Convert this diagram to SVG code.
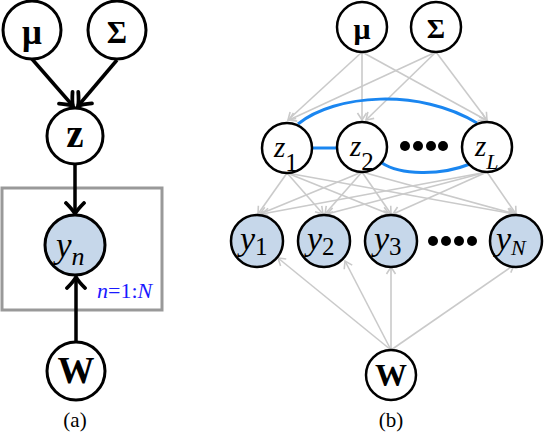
<svg xmlns="http://www.w3.org/2000/svg" width="544" height="440" viewBox="0 0 544 440">
<style>
.nd{fill:#fff;stroke:#000;stroke-width:3}
.nb{fill:#fff;stroke:#000;stroke-width:2.5}
.obs{fill:#c6d7ea}
.t{font-family:"Liberation Serif","Times New Roman",serif;fill:#000}
.b{font-weight:bold}
.i{font-style:italic}
.r{font-style:normal}
.ea{stroke:#000;stroke-width:3.5;fill:none}
.eb{stroke:#cacaca;stroke-width:1.6;fill:none}
.bl{stroke:#1a86f0;stroke-width:3;fill:none}
</style>
<defs>
<marker id="ab" markerUnits="userSpaceOnUse" markerWidth="26" markerHeight="26" viewBox="-13 -13 26 26" refX="0" refY="0" orient="auto">
<path d="M-11,-9 Q-4,-2 0,0 Q-4,2 -11,9" stroke="#000" stroke-width="3.8" fill="none" stroke-linecap="round"/>
</marker>
<marker id="ag" markerUnits="userSpaceOnUse" markerWidth="16" markerHeight="16" viewBox="-8 -8 16 16" refX="0" refY="0" orient="auto">
<path d="M-7,-4.5 L0,0 L-7,4.5" stroke="#cacaca" stroke-width="1.6" fill="none"/>
</marker>
</defs>

<rect x="2" y="188" width="160" height="122" fill="none" stroke="#999" stroke-width="3"/>

<g id="connectors">
<line class="ea" x1="32" y1="59" x2="73" y2="106" marker-end="url(#ab)"/>
<line class="ea" x1="117" y1="60" x2="78" y2="106" marker-end="url(#ab)"/>
<line class="ea" x1="75" y1="165" x2="75" y2="214" marker-end="url(#ab)"/>
<line class="ea" x1="76" y1="342" x2="76" y2="277" marker-end="url(#ab)"/>

<line class="eb" x1="362" y1="52" x2="288" y2="120" marker-end="url(#ag)"/>
<line class="eb" x1="362" y1="52" x2="362" y2="120" marker-end="url(#ag)"/>
<line class="eb" x1="362" y1="52" x2="486" y2="120" marker-end="url(#ag)"/>
<line class="eb" x1="436" y1="52" x2="289" y2="120" marker-end="url(#ag)"/>
<line class="eb" x1="436" y1="52" x2="366" y2="120" marker-end="url(#ag)"/>
<line class="eb" x1="436" y1="52" x2="487" y2="120" marker-end="url(#ag)"/>

<line class="eb" x1="287" y1="173" x2="258" y2="214" marker-end="url(#ag)"/>
<line class="eb" x1="287" y1="173" x2="323" y2="214" marker-end="url(#ag)"/>
<line class="eb" x1="287" y1="173" x2="389" y2="214" marker-end="url(#ag)"/>
<line class="eb" x1="287" y1="173" x2="514" y2="214" marker-end="url(#ag)"/>
<line class="eb" x1="362" y1="172" x2="260" y2="214" marker-end="url(#ag)"/>
<line class="eb" x1="362" y1="172" x2="325" y2="214" marker-end="url(#ag)"/>
<line class="eb" x1="362" y1="172" x2="391" y2="214" marker-end="url(#ag)"/>
<line class="eb" x1="362" y1="172" x2="515" y2="214" marker-end="url(#ag)"/>
<line class="eb" x1="487" y1="172" x2="262" y2="214" marker-end="url(#ag)"/>
<line class="eb" x1="487" y1="172" x2="327" y2="214" marker-end="url(#ag)"/>
<line class="eb" x1="487" y1="172" x2="393" y2="214" marker-end="url(#ag)"/>
<line class="eb" x1="487" y1="172" x2="516" y2="214" marker-end="url(#ag)"/>

<line class="eb" x1="391" y1="350" x2="278" y2="258" marker-end="url(#ag)"/>
<line class="eb" x1="391" y1="350" x2="345" y2="261" marker-end="url(#ag)"/>
<line class="eb" x1="391" y1="350" x2="391" y2="267" marker-end="url(#ag)"/>
<line class="eb" x1="391" y1="350" x2="514" y2="265" marker-end="url(#ag)"/>

<path class="bl" d="M298,124 C335,94 420,88 477,123"/>
<path class="bl" d="M312,148 L337,148"/>
<path class="bl" d="M382,163 C400,175 440,176 470,164"/>
</g>

<g id="a-mu"><circle class="nd" cx="32" cy="30" r="29"/><text class="t b" x="32" y="44" font-size="35" text-anchor="middle">μ</text></g>
<g id="a-sigma"><circle class="nd" cx="117" cy="30" r="29"/><text class="t b" x="117" y="43" font-size="31" text-anchor="middle">Σ</text></g>
<g id="a-z"><circle class="nd" cx="75" cy="136" r="28"/><text class="t b" x="75" y="147" font-size="39" text-anchor="middle">z</text></g>
<g id="a-yn"><circle class="nd obs" cx="75" cy="245" r="30"/><text class="t i" x="56" y="257" font-size="35">y<tspan font-size="26" dy="8">n</tspan></text></g>
<g id="a-plate-label"><text class="t" x="97" y="298" font-size="22" style="fill:#1a1aff"><tspan class="i">n</tspan>=1:<tspan class="i">N</tspan></text></g>
<g id="a-w"><circle class="nd" cx="76" cy="371" r="29"/><text class="t b" x="76" y="383" font-size="37" text-anchor="middle">W</text></g>
<text class="t" x="75" y="427" font-size="21" text-anchor="middle">(a)</text>

<g id="b-mu"><circle class="nb" cx="362" cy="27" r="25"/><text class="t b" x="362" y="39" font-size="30" text-anchor="middle">μ</text></g>
<g id="b-sigma"><circle class="nb" cx="436" cy="27" r="25"/><text class="t b" x="436" y="38" font-size="28" text-anchor="middle">Σ</text></g>
<g id="b-z1"><circle class="nb" cx="287" cy="148" r="25"/><text class="t i" x="274" y="157" font-size="29">z<tspan class="r" font-size="25" dy="14">1</tspan></text></g>
<g id="b-z2"><circle class="nb" cx="362" cy="147" r="25"/><text class="t i" x="350" y="156" font-size="29">z<tspan class="r" font-size="25" dy="14">2</tspan></text></g>
<g id="b-zL"><circle class="nb" cx="487" cy="147" r="25"/><text class="t i" x="475" y="156" font-size="29">z<tspan font-size="22" dy="13">L</tspan></text></g>
<g id="b-zdots"><circle cx="405" cy="146" r="5"/><circle cx="418" cy="146" r="5"/><circle cx="431" cy="146" r="5"/><circle cx="443" cy="146" r="5"/></g>
<g id="b-y1"><circle class="nb obs" cx="257" cy="241" r="26"/><text class="t i" x="240" y="250" font-size="34">y<tspan class="r" font-size="25" dy="5">1</tspan></text></g>
<g id="b-y2"><circle class="nb obs" cx="324" cy="241" r="26"/><text class="t i" x="307" y="250" font-size="34">y<tspan class="r" font-size="25" dy="5">2</tspan></text></g>
<g id="b-y3"><circle class="nb obs" cx="391" cy="241" r="26"/><text class="t i" x="374" y="250" font-size="34">y<tspan class="r" font-size="25" dy="5">3</tspan></text></g>
<g id="b-ydots"><circle cx="433" cy="241" r="5"/><circle cx="446" cy="241" r="5"/><circle cx="459" cy="241" r="5"/><circle cx="472" cy="241" r="5"/></g>
<g id="b-yN"><circle class="nb obs" cx="516" cy="241" r="26"/><text class="t i" x="496" y="250" font-size="34">y<tspan font-size="22" dy="5">N</tspan></text></g>
<g id="b-w"><circle class="nb" cx="391" cy="375" r="25"/><text class="t b" x="391" y="386" font-size="32" text-anchor="middle">W</text></g>
<text class="t" x="391" y="427" font-size="21" text-anchor="middle">(b)</text>
</svg>
